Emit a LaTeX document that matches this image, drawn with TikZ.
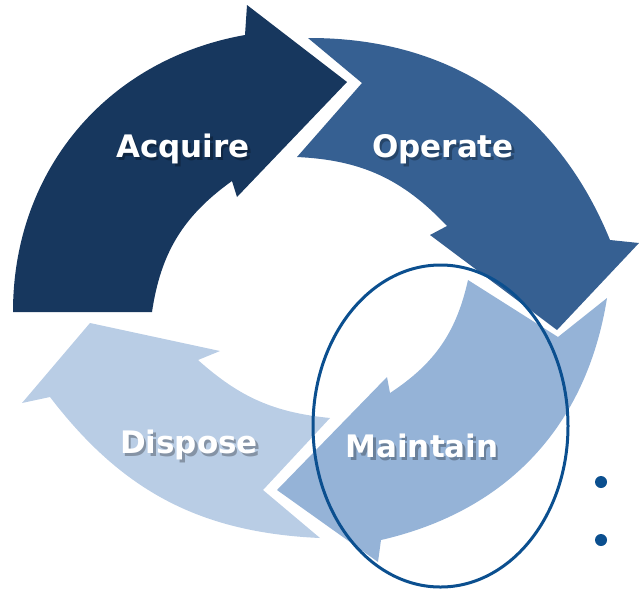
\documentclass[tikz,border=0pt]{standalone}
\usepackage{fontspec}
\setmainfont{DejaVu Sans}
\definecolor{cAcq}{HTML}{17375E}
\definecolor{cOpe}{HTML}{366092}
\definecolor{cMai}{HTML}{95B3D7}
\definecolor{cDis}{HTML}{B9CDE5}
\definecolor{cEll}{HTML}{0B4F8F}
\begin{document}
\begin{tikzpicture}[x=1pt,y=-1pt,
  lbl/.style={font=\bfseries\fontsize{31}{33}\selectfont, text=white, inner sep=0pt, anchor=base},
  shd/.style={font=\bfseries\fontsize{31}{33}\selectfont, text=black, opacity=0.28, inner sep=0pt, anchor=base}]
\useasboundingbox (0,0) rectangle (639,590);
% Acquire
\fill[cAcq] (13,312) to[bend left=40] (245,35)
  -- (247,5) -- (347,82) -- (237,197) -- (232,181)
  to[bend right=23] (152,312) -- cycle;
% Operate
\fill[cOpe] (308,38) -- (362,83) -- (297,157)
  to[bend left=22] (447,226)
  -- (430,235) -- (557,330) -- (639,243) -- (610,240)
  to[bend right=34] (308,38) -- cycle;
% Maintain
\fill[cMai] (607,298) -- (558,337) -- (468,280)
  to[bend left=22] (390,393)
  -- (387,377) -- (277,490) -- (378,562) -- (381,540)
  to[bend right=34] (607,298) -- cycle;
% Dispose
\fill[cDis] (320,538) -- (263,490) -- (330,418)
  to[bend left=18] (198,360)
  -- (220,351) -- (90,323) -- (22,403) -- (50,397)
  to[bend right=25] (320,538) -- cycle;
% label shadows
\node[shd] (sA) at (185.5,160) {Acquire};
\node[shd] (sO) at (445.5,160) {Operate};
\node[shd] (sD) at (191.5,456) {Dispose};
\node[shd] (sM) at (424.5,460) {Maintain};
% labels
\node[lbl] (acq) at (183,157) {Acquire};
\node[lbl] (ope) at (443,157) {Operate};
\node[lbl] (dis) at (189,453) {Dispose};
\node[lbl] (mai) at (422,457) {Maintain};
% highlight ellipse
\draw[cEll, line width=3pt] (440.5,426) ellipse [x radius=127.5pt, y radius=161pt];
% bullets
\fill[cEll] (601,482) circle[radius=6pt];
\fill[cEll] (601,540) circle[radius=6pt];
\end{tikzpicture}
\end{document}
